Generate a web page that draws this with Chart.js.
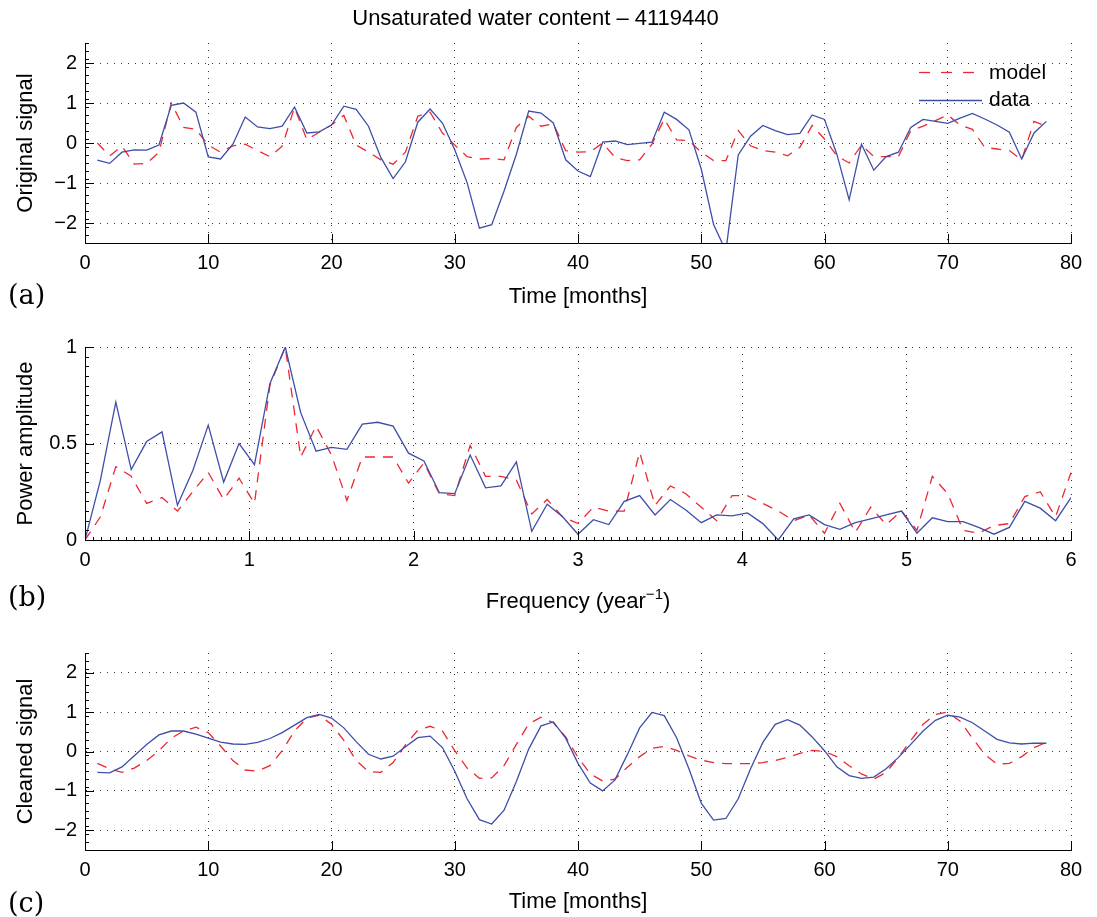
<!DOCTYPE html>
<html>
<head>
<meta charset="utf-8">
<script src="https://cdn.jsdelivr.net/npm/chart.js@4.4.1/dist/chart.umd.min.js"></script>
<style>
  html, body { margin: 0; padding: 0; background: #fff; }
  #wrap { position: relative; width: 1097px; height: 917px; }
  canvas { position: absolute; left: 0; }
</style>
</head>
<body>
<div id="wrap">
  <canvas id="chartA" width="1097" height="315" style="top:0px"></canvas>
  <canvas id="chartB" width="1097" height="305" style="top:315px"></canvas>
  <canvas id="chartC" width="1097" height="297" style="top:620px"></canvas>
</div>
<script>
// months 1..78
var months = Array.from({length: 78}, (_, i) => i + 1);
// frequencies k*12/128 year^-1, k = 0..64
var freqs = Array.from({length: 65}, (_, k) => k * 12 / 128);

var origData = [-0.43,-0.51,-0.23,-0.17,-0.18,-0.05,0.94,1.0,0.77,-0.35,
  -0.40,-0.03,0.65,0.40,0.36,0.42,0.90,0.25,0.28,0.45,
  0.92,0.84,0.42,-0.36,-0.89,-0.47,0.52,0.85,0.50,-0.17,
  -0.99,-2.13,-2.04,-1.20,-0.28,0.80,0.75,0.50,-0.42,-0.70,
  -0.84,0.02,0.05,-0.04,-0.01,0.02,0.77,0.59,0.33,-0.65,
  -2.04,-2.70,-0.30,0.17,0.44,0.31,0.21,0.24,0.70,0.59,
  -0.28,-1.42,-0.03,-0.68,-0.34,-0.23,0.39,0.59,0.54,0.49,
  0.62,0.74,0.60,0.45,0.27,-0.40,0.25,0.54];
var origModel = [0.00,-0.32,-0.08,-0.53,-0.51,-0.23,1.00,0.39,0.34,-0.05,
  -0.23,-0.07,-0.03,-0.19,-0.34,-0.08,0.89,0.08,0.27,0.45,
  0.69,-0.05,-0.23,-0.42,-0.53,-0.23,0.67,0.77,0.25,-0.05,
  -0.34,-0.40,-0.39,-0.42,0.39,0.67,0.42,0.48,-0.19,-0.23,
  -0.22,0.00,-0.36,-0.44,-0.42,-0.03,0.60,0.08,0.06,-0.23,
  -0.44,-0.44,0.31,-0.07,-0.19,-0.23,-0.32,-0.11,0.44,0.10,
  -0.32,-0.50,-0.05,-0.34,-0.34,-0.34,0.31,0.42,0.56,0.70,
  0.45,0.34,-0.11,-0.15,-0.19,-0.42,0.54,0.42];

var powerData = [0,0.31,0.715,0.365,0.51,0.56,0.18,0.36,0.595,0.30,
  0.50,0.39,0.81,1.0,0.66,0.46,0.48,0.47,0.60,0.61,
  0.59,0.45,0.41,0.245,0.24,0.44,0.27,0.28,0.405,0.045,
  0.185,0.12,0.03,0.105,0.08,0.20,0.23,0.13,0.21,0.155,
  0.09,0.13,0.125,0.14,0.085,0.0,0.11,0.13,0.08,0.055,
  0.09,0.11,0.13,0.15,0.035,0.115,0.095,0.095,0.065,0.03,
  0.065,0.20,0.165,0.10,0.22];
var powerModel = [0,0.12,0.38,0.33,0.19,0.22,0.15,0.25,0.35,0.21,
  0.32,0.19,0.80,1.0,0.43,0.59,0.44,0.205,0.43,0.43,
  0.43,0.295,0.40,0.24,0.23,0.49,0.33,0.33,0.31,0.135,
  0.21,0.12,0.085,0.17,0.15,0.15,0.455,0.18,0.28,0.24,
  0.17,0.10,0.23,0.23,0.19,0.15,0.10,0.13,0.035,0.19,
  0.04,0.17,0.08,0.15,0.05,0.33,0.24,0.05,0.035,0.075,
  0.085,0.225,0.25,0.12,0.35];

var cleanData = [-0.53,-0.54,-0.39,-0.11,0.18,0.42,0.52,0.52,0.44,0.34,
  0.24,0.19,0.18,0.23,0.33,0.48,0.67,0.86,0.94,0.85,
  0.60,0.25,-0.07,-0.19,-0.12,0.12,0.35,0.39,0.10,-0.50,
  -1.20,-1.73,-1.84,-1.49,-0.76,0.06,0.65,0.75,0.34,-0.30,
  -0.80,-1.00,-0.72,-0.08,0.60,0.99,0.91,0.35,-0.44,-1.31,
  -1.74,-1.70,-1.20,-0.44,0.23,0.69,0.81,0.67,0.37,0.02,
  -0.39,-0.61,-0.68,-0.65,-0.44,-0.15,0.18,0.52,0.79,0.92,
  0.87,0.73,0.52,0.31,0.22,0.19,0.21,0.21];
var cleanModel = [-0.30,-0.44,-0.53,-0.42,-0.23,0.02,0.34,0.52,0.62,0.48,
  0.14,-0.23,-0.47,-0.50,-0.36,0.02,0.52,0.85,0.92,0.69,
  0.28,-0.23,-0.51,-0.53,-0.28,0.17,0.54,0.64,0.52,0.02,
  -0.42,-0.68,-0.67,-0.36,0.18,0.70,0.87,0.73,0.37,-0.15,
  -0.57,-0.75,-0.70,-0.40,-0.13,0.08,0.13,0.03,-0.11,-0.22,
  -0.28,-0.31,-0.31,-0.31,-0.28,-0.23,-0.15,-0.05,0.03,0.00,
  -0.13,-0.36,-0.57,-0.70,-0.53,-0.15,0.28,0.69,0.94,1.00,
  0.77,0.34,-0.07,-0.32,-0.30,-0.13,0.10,0.23];

var monthTicks = [0, 10, 20, 30, 40, 50, 60, 70, 80];
var freqTicks = [0, 1, 2, 3, 4, 5, 6];
var signalTicksY = [-2, -1, 0, 1, 2];
var powerTicksY = [0, 0.5, 1];

var RED = 'rgb(236,40,52)';
var BLUE = 'rgb(62,78,168)';
var FONT = '"Liberation Sans", Arial, sans-serif';

function pts(xs, ys) {
  return xs.map((x, i) => ({x: x, y: ys[i]}));
}
function fmt(v) {
  return String(v).replace('-', '\u2212');
}

// MATLAB style inward tick marks, panel letter, superscript axis title
var axesDeco = {
  id: 'axesDeco',
  afterDraw: function (chart, args, opts) {
    var ctx = chart.ctx, a = chart.chartArea;
    var xs = chart.scales.x, ys = chart.scales.y;
    ctx.save();
    ctx.strokeStyle = '#000';
    ctx.lineWidth = 1;
    ctx.beginPath();
    xs.ticks.forEach(function (t) {
      var p = Math.round(xs.getPixelForValue(t.value)) + 0.5;
      ctx.moveTo(p, a.bottom); ctx.lineTo(p, a.bottom - 9);
    });
    ys.ticks.forEach(function (t) {
      var p = Math.round(ys.getPixelForValue(t.value)) + 0.5;
      ctx.moveTo(a.left, p); ctx.lineTo(a.left + 9, p);
    });
    if (opts.xMinor) {
      for (var v = xs.min; v <= xs.max + 1e-9; v += opts.xMinor) {
        var p = Math.round(xs.getPixelForValue(v)) + 0.5;
        ctx.moveTo(p, a.bottom); ctx.lineTo(p, a.bottom - 3);
      }
    }
    if (opts.yMinor) {
      for (var w = ys.min; w <= ys.max + 1e-9; w += opts.yMinor) {
        var q = Math.round(ys.getPixelForValue(w)) + 0.5;
        ctx.moveTo(a.left, q); ctx.lineTo(a.left + 4, q);
      }
    }
    ctx.stroke();
    ctx.fillStyle = '#000';
    ctx.font = '27px "DejaVu Serif", "Liberation Serif", serif';
    ctx.textBaseline = 'middle';
    ctx.fillText(opts.label, 8, opts.labelY);
    if (opts.supTitle) {
      // "Frequency (year^-1)" with a real superscript
      var s = opts.supTitle;
      ctx.font = '22px ' + FONT;
      var w1 = ctx.measureText(s[0]).width, w3 = ctx.measureText(s[2]).width;
      ctx.font = '15px ' + FONT;
      var w2 = ctx.measureText(s[1]).width;
      var x0 = (a.left + a.right) / 2 - (w1 + w2 + w3) / 2;
      ctx.textBaseline = 'alphabetic';
      ctx.font = '22px ' + FONT;
      ctx.fillText(s[0], x0, opts.supY);
      ctx.font = '15px ' + FONT;
      ctx.fillText(s[1], x0 + w1, opts.supY - 9);
      ctx.font = '22px ' + FONT;
      ctx.fillText(s[2], x0 + w1 + w2, opts.supY);
    }
    ctx.restore();
  }
};

// legend drawn inside the top panel
var insideLegend = {
  id: 'insideLegend',
  afterDraw: function (chart) {
    if (chart.canvas.id !== 'chartA') return;
    var ctx = chart.ctx;
    ctx.save();
    ctx.lineWidth = 1.3;
    ctx.strokeStyle = RED;
    ctx.setLineDash([11, 11]);
    ctx.beginPath(); ctx.moveTo(919, 72.5); ctx.lineTo(976, 72.5); ctx.stroke();
    ctx.setLineDash([]);
    ctx.strokeStyle = BLUE;
    ctx.beginPath(); ctx.moveTo(919, 100.5); ctx.lineTo(982, 100.5); ctx.stroke();
    ctx.fillStyle = '#000';
    ctx.font = '21px ' + FONT;
    ctx.textBaseline = 'middle';
    ctx.fillText('model', 989, 73);
    ctx.fillText('data', 989, 100);
    ctx.restore();
  }
};

function makePanel(id, o) {
  return new Chart(document.getElementById(id), {
    type: 'line',
    data: {
      datasets: [
        {label: 'data', data: o.data, borderColor: BLUE, borderWidth: 1.3,
         pointRadius: 0, tension: 0, fill: false},
        {label: 'model', data: o.model, borderColor: RED, borderWidth: 1.3,
         borderDash: [10, 8], pointRadius: 0, tension: 0, fill: false}
      ]
    },
    options: {
      responsive: false,
      animation: false,
      events: [],
      layout: {padding: {left: 0, right: 26, top: o.padTop, bottom: 0}},
      plugins: {
        legend: {display: false},
        tooltip: {enabled: false},
        title: o.title ? {
          display: true, text: o.title, color: '#000',
          font: {family: FONT, size: 22, weight: 'normal'},
          padding: {top: 6, bottom: 10.6}
        } : {display: false},
        axesDeco: {label: o.letter, labelY: o.letterY, xMinor: o.xMinor, yMinor: o.yMinor,
                   supTitle: o.supTitle, supY: o.supY}
      },
      scales: {
        x: {
          type: 'linear', min: o.xMin, max: o.xMax,
          afterBuildTicks: function (s) { s.ticks = o.xTicks.map(v => ({value: v})); },
          afterFit: function (s) { s.height = o.xHeight; },
          ticks: {color: '#000', padding: 8, font: {family: FONT, size: 20}, maxRotation: 0,
                  callback: fmt},
          grid: {color: '#333', lineWidth: 1, drawTicks: false},
          border: {display: true, color: '#000', width: 1, dash: [1, 6]},
          title: {display: !!o.xTitle, text: o.xTitle || '', color: '#000',
                  font: {family: FONT, size: 22}, padding: {top: 0, bottom: o.xTitlePad}}
        },
        y: {
          type: 'linear', min: o.yMin, max: o.yMax,
          afterBuildTicks: function (s) { s.ticks = o.yTicks.map(v => ({value: v})); },
          afterFit: function (s) { s.width = 85; },
          ticks: {color: '#000', padding: 8, font: {family: FONT, size: 20}, callback: fmt},
          grid: {color: '#333', lineWidth: 1, drawTicks: false},
          border: {display: true, color: '#000', width: 1, dash: [1, 6]},
          title: {display: true, text: o.yTitle, color: '#000',
                  font: {family: FONT, size: 22}, padding: {top: 12.8, bottom: 0}}
        }
      }
    },
    plugins: [axesDeco, insideLegend]
  });
}

makePanel('chartA', {
  data: pts(months, origData), model: pts(months, origModel),
  title: 'Unsaturated water content \u2013 4119440', padTop: 0,
  xMin: 0, xMax: 80, xTicks: monthTicks, yMin: -2.5, yMax: 2.5, yTicks: signalTicksY,
  xHeight: 72, xTitle: 'Time [months]', xTitlePad: 4.8, yTitle: 'Original signal',
  letter: '(a)', letterY: 297, yMinor: 0.2
});
makePanel('chartB', {
  data: pts(freqs, powerData), model: pts(freqs, powerModel),
  padTop: 32,
  xMin: 0, xMax: 6, xTicks: freqTicks, yMin: 0, yMax: 1, yTicks: powerTicksY,
  xHeight: 80, supTitle: ['Frequency (year', '\u22121', ')'], supY: 293, yTitle: 'Power amplitude',
  letter: '(b)', letterY: 284, xMinor: 0.05, yMinor: 0.05
});
makePanel('chartC', {
  data: pts(months, cleanData), model: pts(months, cleanModel),
  padTop: 33,
  xMin: 0, xMax: 80, xTicks: monthTicks, yMin: -2.5, yMax: 2.5, yTicks: signalTicksY,
  xHeight: 67, xTitle: 'Time [months]', xTitlePad: 1.8, yTitle: 'Cleaned signal',
  letter: '(c)', letterY: 285, yMinor: 0.2
});
</script>
</body>
</html>
